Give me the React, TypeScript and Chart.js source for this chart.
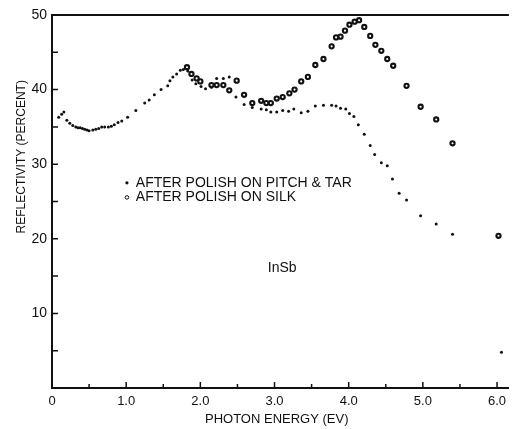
import React, { useEffect, useRef } from 'react';
import { Chart, registerables } from 'chart.js';

Chart.register(...registerables);

// ---- data ----
const pitchTarEnergy = [
  0.09, 0.13, 0.16, 0.2, 0.24, 0.28, 0.32, 0.35, 0.38, 0.41, 0.44, 0.47, 0.5, 0.55, 0.59, 0.63, 0.67, 0.71, 0.76,
  0.8, 0.84, 0.89, 0.94, 1.02, 1.13, 1.25, 1.31, 1.38, 1.47, 1.56, 1.59, 1.63, 1.68, 1.73, 1.77, 1.83, 1.89, 1.94,
  2.01, 2.07, 2.15, 2.22, 2.31, 2.39, 2.48, 2.59, 2.7, 2.82, 2.89, 2.95, 3.03, 3.11, 3.19, 3.26, 3.36, 3.45, 3.55,
  3.66, 3.77, 3.83, 3.89, 3.96, 4.01, 4.07, 4.13, 4.21, 4.29, 4.35, 4.44, 4.52, 4.59, 4.68, 4.78, 4.97, 5.18, 5.4,
  6.06,
];
const pitchTarReflectivity = [
  36.3, 36.7, 37.0, 35.9, 35.5, 35.2, 35.0, 34.9, 34.9, 34.8, 34.7, 34.6, 34.5, 34.6, 34.7, 34.8, 35.0, 35.0, 35.0,
  35.1, 35.3, 35.6, 35.8, 36.3, 37.2, 38.2, 38.6, 39.3, 40.0, 40.5, 41.2, 41.7, 42.1, 42.6, 42.7, 42.5, 41.3, 40.8,
  40.4, 40.1, 40.3, 41.5, 41.5, 41.7, 39.0, 38.0, 37.6, 37.4, 37.3, 37.0, 37.0, 37.2, 37.1, 37.4, 36.9, 37.1, 37.8,
  37.9, 37.9, 37.8, 37.5, 37.4, 36.8, 36.4, 35.3, 34.0, 32.5, 31.3, 30.2, 29.8, 28.0, 26.1, 25.2, 23.1, 22.0, 20.6,
  4.8,
];
const silkEnergy = [
  1.82, 1.88, 1.95, 2.0, 2.15, 2.22, 2.31, 2.39, 2.49, 2.59, 2.7, 2.82, 2.89, 2.95, 3.03, 3.11, 3.2, 3.27, 3.36,
  3.45, 3.55, 3.66, 3.77, 3.83, 3.89, 3.95, 4.01, 4.08, 4.14, 4.21, 4.29, 4.36, 4.44, 4.52, 4.6, 4.78, 4.97, 5.18,
  5.4, 6.02,
];
const silkReflectivity = [
  43.0, 42.1, 41.5, 41.1, 40.6, 40.6, 40.6, 39.9, 41.2, 39.3, 38.2, 38.5, 38.2, 38.2, 38.8, 39.0, 39.5, 40.0, 41.1,
  41.7, 43.3, 44.1, 45.8, 47.0, 47.1, 47.9, 48.7, 49.1, 49.3, 48.4, 47.2, 46.0, 45.2, 44.1, 43.2, 40.5, 37.7, 36.0,
  32.8, 20.4,
];

const xTickValues = [0, 0.5, 1, 1.5, 2, 2.5, 3, 3.5, 4, 4.5, 5, 5.5, 6];
const xLabeledTicks = [0, 1, 2, 3, 4, 5, 6];
const yLabeledTicks = [10, 20, 30, 40, 50];
const xTitle = 'PHOTON ENERGY (EV)';
const yTitle = 'REFLECTIVITY (PERCENT)';
const legendPitch = 'AFTER POLISH ON PITCH & TAR';
const legendSilk = 'AFTER POLISH ON SILK';
const sampleLabel = 'InSb';

const INK = '#111';
const FONT = '"Liberation Sans", Arial, sans-serif';

const decor = {
  id: 'decor',
  afterDraw(chart: any) {
    const { ctx, chartArea, scales } = chart;
    const { left, right, top, bottom } = chartArea;
    const x = scales.x;
    const y = scales.y;
    ctx.save();
    ctx.strokeStyle = INK;
    // top frame line
    ctx.lineWidth = 2;
    ctx.beginPath();
    ctx.moveTo(left, top);
    ctx.lineTo(right, top);
    ctx.stroke();
    // inward tick marks
    ctx.lineWidth = 1.5;
    ctx.beginPath();
    y.ticks.forEach((t: any) => {
      if (t.value <= 0 || t.value >= 50) return;
      const py = y.getPixelForValue(t.value);
      ctx.moveTo(left, py);
      ctx.lineTo(left + 6, py);
    });
    x.ticks.forEach((t: any) => {
      if (t.value <= 0) return;
      const px = x.getPixelForValue(t.value);
      const major = Math.abs(t.value - Math.round(t.value)) < 1e-6;
      ctx.moveTo(px, bottom);
      ctx.lineTo(px, bottom - (major ? 6 : 4));
    });
    ctx.stroke();

    ctx.fillStyle = INK;
    ctx.textBaseline = 'middle';
    // x title
    ctx.font = `13px ${FONT}`;
    ctx.textAlign = 'center';
    ctx.fillText(xTitle, x.getPixelForValue(3.03), bottom + 31);
    // y title
    ctx.save();
    ctx.translate(left - 30, y.getPixelForValue(31));
    ctx.rotate(-Math.PI / 2);
    ctx.font = `12px ${FONT}`;
    ctx.fillText(yTitle, 0, 0);
    ctx.restore();

    // legend
    ctx.textAlign = 'left';
    ctx.font = `14px ${FONT}`;
    const lx = x.getPixelForValue(1.13);
    const mx = x.getPixelForValue(1.01);
    const l1 = y.getPixelForValue(27.5);
    const l2 = y.getPixelForValue(25.55);
    ctx.fillText(legendPitch, lx, l1);
    ctx.fillText(legendSilk, lx, l2);
    ctx.beginPath();
    ctx.arc(mx, l1, 1.6, 0, Math.PI * 2);
    ctx.fill();
    ctx.beginPath();
    ctx.lineWidth = 1;
    ctx.arc(mx, l2, 1.8, 0, Math.PI * 2);
    ctx.stroke();

    // sample label
    ctx.fillText(sampleLabel, x.getPixelForValue(2.91), y.getPixelForValue(16.1));
    ctx.restore();
  },
};

export default function App() {
  const canvasRef = useRef<HTMLCanvasElement | null>(null);

  useEffect(() => {
    if (!canvasRef.current) return;
    const pitchData = pitchTarEnergy.map((e, i) => ({ x: e, y: pitchTarReflectivity[i] }));
    const silkData = silkEnergy.map((e, i) => ({ x: e, y: silkReflectivity[i] }));
    const chart = new Chart(canvasRef.current, {
      type: 'scatter',
      data: {
        datasets: [
          {
            label: legendPitch,
            data: pitchData,
            pointRadius: 1.5,
            pointBorderWidth: 0,
            pointBackgroundColor: INK,
            pointBorderColor: INK,
          },
          {
            label: legendSilk,
            data: silkData,
            pointRadius: 2.1,
            pointBorderWidth: 2.1,
            pointBackgroundColor: '#fff',
            pointBorderColor: INK,
          },
        ],
      },
      options: {
        responsive: false,
        animation: false,
        layout: { padding: { top: 15, right: 0, left: 0, bottom: 0 } },
        plugins: {
          legend: { display: false },
          tooltip: { enabled: false },
        },
        scales: {
          x: {
            type: 'linear',
            min: 0,
            max: 6.16,
            grid: { display: false, drawTicks: false },
            border: { display: true, color: INK, width: 2 },
            afterBuildTicks: (scale: any) => {
              scale.ticks = xTickValues.map((v) => ({ value: v }));
            },
            afterFit: (scale: any) => {
              scale.height = 41;
            },
            ticks: {
              autoSkip: false,
              maxRotation: 0,
              padding: 6,
              color: INK,
              font: { family: FONT, size: 13 },
              callback: (v: any) => {
                const n = Number(v);
                const hit = xLabeledTicks.find((t) => Math.abs(t - n) < 1e-6);
                if (hit === undefined) return '';
                return hit === 0 ? '0' : hit.toFixed(1);
              },
            },
          },
          y: {
            type: 'linear',
            min: 0,
            max: 50,
            grid: { display: false, drawTicks: false },
            border: { display: true, color: INK, width: 2 },
            afterFit: (scale: any) => {
              scale.width = 52;
            },
            ticks: {
              stepSize: 5,
              autoSkip: false,
              padding: 5,
              color: INK,
              font: { family: FONT, size: 14 },
              callback: (v: any) => {
                const n = Number(v);
                return yLabeledTicks.includes(n) ? String(n) : '';
              },
            },
          },
        },
      },
      plugins: [decor],
    });
    return () => chart.destroy();
  }, []);

  return (
    <div style={{ position: 'fixed', left: 0, top: 0, width: 515, height: 429, background: '#fff' }}>
      <canvas ref={canvasRef} width={515} height={429} />
    </div>
  );
}
